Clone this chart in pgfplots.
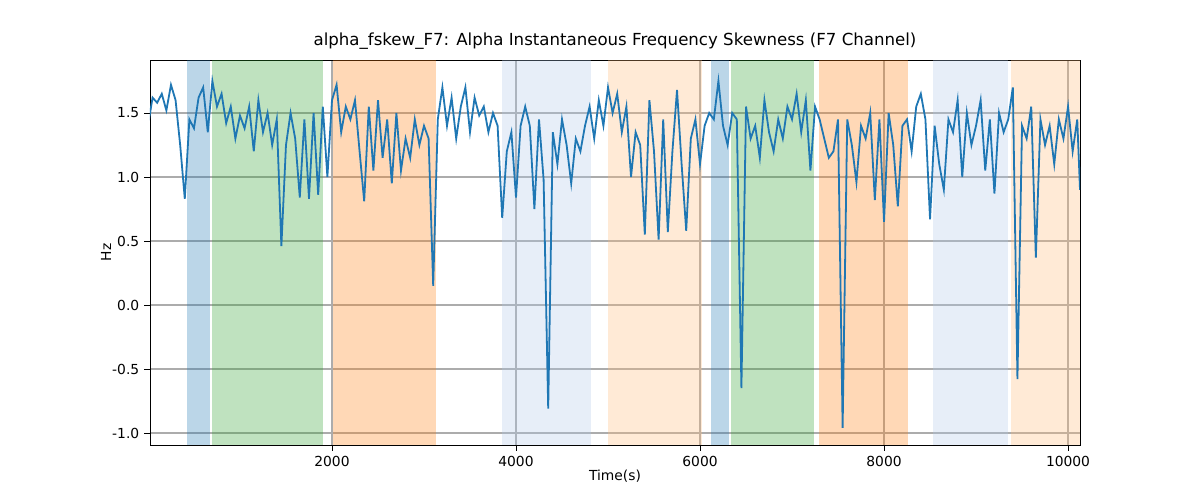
\documentclass[border=0pt]{standalone}
\usepackage{pgfplots}
\pgfplotsset{compat=1.18}
\usepackage{fontspec}
\setmainfont{DejaVu Sans}
\definecolor{mblue}{HTML}{1F77B4}
\definecolor{morange}{HTML}{FF7F0E}
\definecolor{mgreen}{HTML}{2CA02C}
\definecolor{lblue}{HTML}{AEC7E8}
\definecolor{lorange}{HTML}{FFBB78}
\begin{document}
\begin{tikzpicture}
\begin{axis}[scale only axis, width=9.3in, height=3.85in,
 xmin=22, xmax=10130, ymin=-1.094, ymax=1.914,
 xtick={2000,4000,6000,8000,10000}, ytick={-1,-0.5,0,0.5,1,1.5},
 scaled x ticks=false,
 xticklabel style={/pgf/number format/.cd,fixed,int detect,1000 sep={}},
 yticklabel style={/pgf/number format/.cd,fixed,fixed zerofill,precision=1},
 /pgf/number format/assume math mode=true,
 ticklabel style={font=\fontsize{10}{12}\selectfont},
 grid=major, grid style={gray!65, line width=0.8pt},
 xtick pos=bottom, ytick pos=left,
 tick align=outside, tick style={black},
 title={alpha\_fskew\_F7: Alpha Instantaneous Frequency Skewness (F7 Channel)},
 title style={font=\fontsize{12}{14}\selectfont, yshift=-2pt},
 xlabel={Time(s)}, ylabel={Hz},
 label style={font=\fontsize{10}{12}\selectfont},
 xlabel style={yshift=4pt}, ylabel style={yshift=-6pt}]
\def\band#1#2#3#4{\addplot[draw=none, fill=#3, fill opacity=#4, forget plot] coordinates {(#1,-1.094) (#2,-1.094) (#2,1.914) (#1,1.914)} --cycle;}
\band{424}{674}{mblue}{0.3}
\band{696}{1902}{mgreen}{0.3}
\band{2011}{3131}{morange}{0.3}
\band{3848}{4815}{lblue}{0.3}
\band{5000}{6022}{lorange}{0.3}
\band{6120}{6315}{mblue}{0.3}
\band{6337}{7240}{mgreen}{0.3}
\band{7293}{8261}{morange}{0.3}
\band{8533}{9348}{lblue}{0.3}
\band{9380}{10130}{lorange}{0.3}
\addplot[mblue, line width=1.3pt] table {
0 1.40
50 1.62
100 1.58
150 1.65
200 1.52
250 1.72
300 1.60
350 1.25
400 0.83
450 1.45
500 1.38
550 1.62
600 1.70
650 1.35
700 1.75
750 1.55
800 1.65
850 1.42
900 1.55
950 1.30
1000 1.48
1050 1.38
1100 1.55
1150 1.20
1200 1.60
1250 1.35
1300 1.50
1350 1.25
1400 1.45
1450 0.46
1500 1.25
1550 1.50
1600 1.30
1650 0.84
1700 1.45
1750 0.83
1800 1.50
1850 0.86
1900 1.55
1950 1.00
2000 1.60
2050 1.72
2100 1.35
2150 1.55
2200 1.45
2250 1.60
2300 1.20
2350 0.81
2400 1.55
2450 1.05
2500 1.60
2550 1.15
2600 1.45
2650 0.95
2700 1.50
2750 1.05
2800 1.30
2850 1.15
2900 1.45
2950 1.25
3000 1.40
3050 1.30
3100 0.15
3150 1.45
3200 1.70
3250 1.40
3300 1.62
3350 1.30
3400 1.55
3450 1.70
3500 1.35
3550 1.62
3600 1.48
3650 1.55
3700 1.35
3750 1.50
3800 1.40
3850 0.68
3900 1.20
3950 1.35
4000 0.84
4050 1.40
4100 1.55
4150 1.40
4200 0.75
4250 1.45
4300 0.98
4350 -0.81
4400 1.35
4450 1.10
4500 1.45
4550 1.25
4600 0.95
4650 1.30
4700 1.20
4750 1.40
4800 1.55
4850 1.30
4900 1.60
4950 1.40
5000 1.70
5050 1.50
5100 1.65
5150 1.35
5200 1.55
5250 1.00
5300 1.35
5350 1.25
5400 0.55
5450 1.60
5500 1.20
5550 0.51
5600 1.45
5650 0.57
5700 1.20
5750 1.68
5800 1.10
5850 0.58
5900 1.30
5950 1.45
6000 1.10
6050 1.40
6100 1.50
6150 1.45
6200 1.75
6250 1.40
6300 1.25
6350 1.50
6400 1.45
6450 -0.65
6500 1.55
6550 1.30
6600 1.40
6650 1.15
6700 1.60
6750 1.35
6800 1.20
6850 1.45
6900 1.30
6950 1.55
7000 1.45
7050 1.65
7100 1.35
7150 1.60
7200 1.05
7250 1.55
7300 1.45
7350 1.30
7400 1.15
7450 1.20
7500 1.45
7550 -0.96
7600 1.45
7650 1.25
7700 0.96
7750 1.40
7800 1.30
7850 1.50
7900 0.82
7950 1.45
8000 0.65
8050 1.50
8100 1.25
8150 0.77
8200 1.40
8250 1.45
8300 1.20
8350 1.55
8400 1.65
8450 1.45
8500 0.67
8550 1.40
8600 1.10
8650 0.90
8700 1.45
8750 1.35
8800 1.60
8850 1.00
8900 1.50
8950 1.25
9000 1.40
9050 1.60
9100 1.05
9150 1.45
9200 0.87
9250 1.50
9300 1.35
9350 1.45
9400 1.70
9450 -0.58
9500 1.40
9550 1.30
9600 1.55
9650 0.37
9700 1.45
9750 1.25
9800 1.40
9850 1.10
9900 1.45
9950 1.30
10000 1.55
10050 1.20
10100 1.45
10130 0.90
};
\end{axis}
\useasboundingbox (-1.5in,-0.55in) rectangle (10.5in,4.45in);
\end{tikzpicture}
\end{document}
